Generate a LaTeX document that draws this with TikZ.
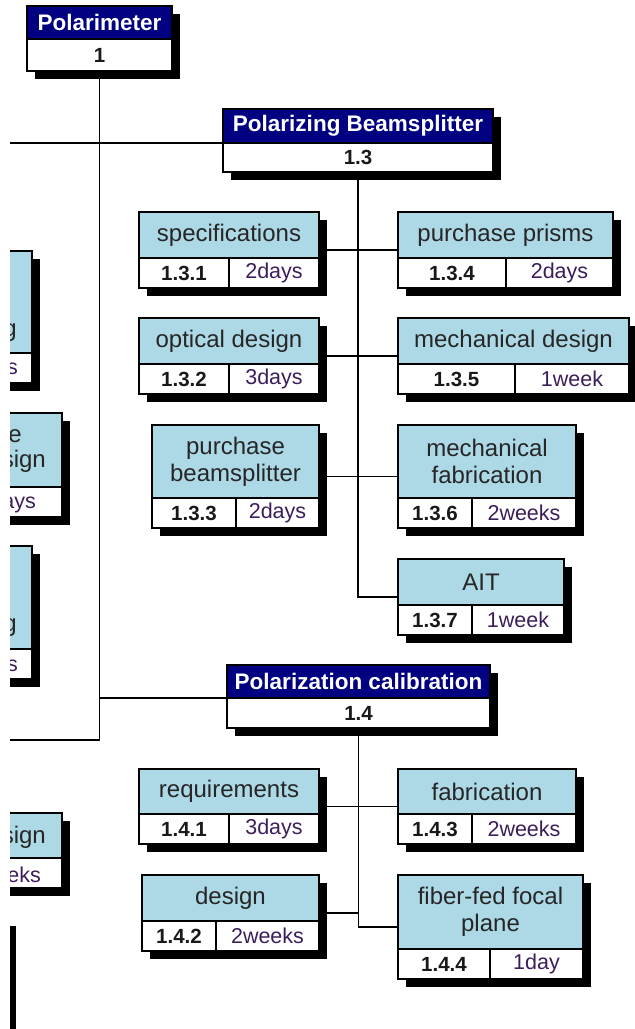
\documentclass[tikz,border=0pt]{standalone}
\usepackage{fontspec}
\setmainfont{Liberation Sans}
\usetikzlibrary{shadows,fit}

\definecolor{wbsnavy}{RGB}{0,0,128}
\definecolor{wbsblue}{RGB}{173,216,230}
\definecolor{wbsdur}{RGB}{60,30,90}

\newcommand{\taskfont}{\fontsize{24}{27}\selectfont}
\newcommand{\durfont}{\fontsize{21.5}{24}\selectfont}

\tikzset{
  boxshadow/.style={drop shadow={shadow xshift=8pt,shadow yshift=-8pt,opacity=1,fill=black}},
  cell/.style={draw=black, line width=1.4pt, inner sep=0pt, outer sep=0pt, anchor=north west, boxshadow},
  headcell/.style={cell, fill=wbsnavy, text=white, font=\bfseries\fontsize{22.5}{26}\selectfont},
  taskcell/.style={cell, fill=wbsblue, text=black!85, align=center, font=\taskfont},
  numcell/.style={cell, fill=white, text=black!90, font=\bfseries\fontsize{20.5}{24}\selectfont},
  durcell/.style={cell, fill=white, text=wbsdur, font=\durfont},
  conn/.style={draw=black, line width=1.9pt},
  frag/.style={inner sep=0pt, anchor=base east, text=black!85}
}

% summary box: navy header, number row below
\newcommand{\sumbox}[7]{%
  \node[headcell, minimum width=#3, minimum height=#4] (#1-t) at (#2) {#6};
  \node[numcell, minimum width=#3, minimum height=#5] (#1-n) at (#1-t.south west) {#7};
}
% task box: light blue header, number and duration below
\newcommand{\taskbox}[8]{%
  \node[taskcell, minimum width=#3, minimum height=#4] (#1-t) at (#2) {#6};
  \node[numcell, minimum width=#5, minimum height=30] (#1-n) at (#1-t.south west) {#7};
  \node[durcell, minimum width=#3-#5, minimum height=30] (#1-d) at (#1-n.north east) {#8};
  \node[fit=(#1-t)(#1-n)(#1-d), inner sep=0pt] (#1) {};
}

\begin{document}
\begin{tikzpicture}[x=1pt,y=-1pt]
\useasboundingbox (0,0) rectangle (635,1029);
\clip (10,-20) rectangle (660,1050);

% cut-off boxes on the left
\taskbox{pa}{-148,251}{180}{102}{100}{}{}{}
\taskbox{pb2}{-118,413}{180}{74}{90}{}{}{}
\taskbox{pc2}{-148,546}{180}{103}{100}{}{}{}
\taskbox{pd}{-118,813}{180}{45}{90}{}{}{}
\taskbox{pe}{-172,918}{180}{74}{90}{}{}{}

\node[frag, font=\taskfont] (fa1) at (17,336) {g};
\node[frag, font=\durfont, text=wbsdur] (fa2) at (18,374) {s};
\node[frag, font=\taskfont] (fb1) at (22,442) {e};
\node[frag, font=\taskfont] (fb2) at (46,467) {sign};
\node[frag, font=\durfont, text=wbsdur] (fb3) at (36,508) {ays};
\node[frag, font=\taskfont] (fc1) at (17,631) {g};
\node[frag, font=\durfont, text=wbsdur] (fc2) at (18,671) {s};
\node[frag, font=\taskfont] (fd1) at (46,843) {sign};
\node[frag, font=\durfont, text=wbsdur] (fd2) at (41,882) {eks};

% summary boxes
\sumbox{pm}{27,6}{145}{33}{32}{Polarimeter}{1}
\sumbox{pbs}{223,109}{270}{34}{29}{Polarizing Beamsplitter}{1.3}
\sumbox{pcal}{227,665}{263}{33}{30}{Polarization calibration}{1.4}

% tasks of 1.3
\taskbox{spec}{139,212}{180}{46}{90}{specifications}{1.3.1}{2days}
\taskbox{opt}{139,318}{180}{46}{90}{optical design}{1.3.2}{3days}
\taskbox{buybs}{152,425}{167}{73}{84}{purchase\\beamsplitter}{1.3.3}{2days}
\taskbox{prism}{398,212}{215}{46}{108}{purchase prisms}{1.3.4}{2days}
\taskbox{mdes}{398,318}{231}{46}{117}{mechanical design}{1.3.5}{1week}
\taskbox{mfab}{398,425}{178}{73}{74}{mechanical\\fabrication}{1.3.6}{2weeks}
\taskbox{ait}{398,559}{166}{46}{74}{AIT}{1.3.7}{1week}

% tasks of 1.4
\taskbox{req}{139,769}{180}{45}{90}{requirements}{1.4.1}{3days}
\taskbox{des}{142,875}{177}{46}{74}{design}{1.4.2}{2weeks}
\taskbox{fab}{398,769}{178}{45}{74}{fabrication}{1.4.3}{2weeks}
\taskbox{fiber}{398,875}{185}{74}{92}{fiber-fed focal\\plane}{1.4.4}{1day}

% connectors
\coordinate (edge) at (0,0);
\coordinate (low) at (0,740);
\draw[conn] (pm-n.south) |- (low);
\draw[conn] (edge |- pbs-t.south west) -- (pbs-t.south west);
\draw[conn] (pcal-t.south west) -- (pcal-t.south west -| pm-n.south);

\draw[conn] (pbs-n.south) |- (ait.west);
\draw[conn] (spec.east) -- (prism.west);
\draw[conn] (opt.east) -- (mdes.west);
\draw[conn] (buybs.east) -- (mfab.west);

\draw[conn] (pcal-n.south) |- (fiber.west);
\draw[conn] (req.east) -- (fab.west);
\draw[conn] (des.east) -- (des.east -| pcal-n.south);
\end{tikzpicture}
\end{document}
